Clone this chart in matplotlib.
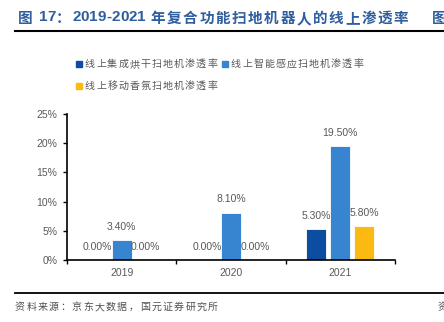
import matplotlib
matplotlib.use("Agg")
import matplotlib.pyplot as plt
from matplotlib.patches import Rectangle
from matplotlib.lines import Line2D
import numpy as np

plt.rcParams['font.family'] = ['Noto Sans CJK SC', 'DejaVu Sans']

years = ["2019", "2020", "2021"]
series_names = ["线上集成烘干扫地机渗透率", "线上智能感应扫地机渗透率", "线上移动香氛扫地机渗透率"]
values = [
    [0.0, 0.0, 5.3],
    [3.4, 8.1, 19.5],
    [0.0, 0.0, 5.8],
]
colors = ["#0C4DA2", "#3784D0", "#FBBA12"]
yticks = [0, 5, 10, 15, 20, 25]
title_parts = [("图", "cjk"), (" ", "gap"), ("17", "num"), ("：", "cjk"), ("2019-2021", "num"),
               (" ", "gap"), ("年复合功能扫地机器人的线上渗透率", "cjk")]
source = "资料来源：京东大数据，国元证券研究所"

W, H = 444, 322
fig = plt.figure(figsize=(W / 100, H / 100), dpi=100)
renderer = fig.canvas.get_renderer()

def fx(px):
    return px / W

def fy(py):
    return 1 - py / H

def spaced(x, y, s, extra, **kw):
    for ch in s:
        t = fig.text(fx(x), fy(y), ch, ha="left", va="center", **kw)
        x += t.get_window_extent(renderer).width + extra
    return x

ax = fig.add_axes([fx(67), fy(260), fx(395) - fx(67), fy(114) - fy(260)])

x = np.arange(len(years))
bw = 0.183
off = 0.22
gray = "#595959"
for i, (name, vals, c) in enumerate(zip(series_names, values, colors)):
    xs = x + (i - 1) * off
    ax.bar(xs, vals, width=bw, color=c, edgecolor="white", linewidth=0.6, zorder=2)
    for xi, v in zip(xs, vals):
        ax.annotate(f"{v:.2f}%", (xi, v), xytext=(0, 6), textcoords="offset points",
                    ha="center", va="bottom", fontsize=7.5, color=gray,
                    family="Liberation Sans")

ax.set_xlim(-0.5, 2.5)
ax.set_ylim(0, 25)
ax.set_yticks(yticks)
ax.set_yticklabels([f"{t}%" for t in yticks], fontsize=7.5, color=gray, family="Liberation Sans")
ax.set_xticks(x)
ax.set_xticklabels(years, fontsize=7.5, color=gray, family="Liberation Sans")
ax.tick_params(axis="x", which="major", length=0, pad=6)
ax.set_xticks([-0.5, 0.5, 1.5, 2.5], minor=True)
ax.tick_params(axis="x", which="minor", length=3, width=1, color="black", direction="out")
ax.tick_params(axis="y", length=3, width=1, color="black", pad=4)
for s in ["top", "right"]:
    ax.spines[s].set_visible(False)
ax.spines["left"].set_linewidth(1.2)
ax.spines["bottom"].set_linewidth(1.2)

# Title
tcol = "#2F5E9F"
cx = 18
for txt, kind in title_parts:
    if kind == "gap":
        cx += 5
    elif kind == "num":
        cx = spaced(cx, 17, txt, 0, fontsize=11, fontweight="bold", color=tcol,
                    family="Liberation Sans")
    else:
        cx = spaced(cx, 18, txt, 1.6, fontsize=10.5, fontweight="bold", color=tcol)
fig.text(fx(432), fy(18), "图", fontsize=10.5, fontweight="bold", color=tcol,
         ha="left", va="center")
fig.add_artist(Line2D([fx(15), fx(444)], [fy(31), fy(31)], color="black", lw=1.5))

# Legend (manual)
legend_pos = [(76, 64), (222, 64), (76, 86)]
for (px, py), name, c in zip(legend_pos, series_names, colors):
    fig.add_artist(Rectangle((fx(px), fy(py + 3)), fx(6), fy(0) - fy(6), color=c,
                             transform=fig.transFigure))
    spaced(px + 9, py, name, 1.1, fontsize=7.2, color=gray)

# Footer
fig.add_artist(Line2D([fx(15), fx(444)], [fy(293), fy(293)], color="black", lw=1.3))
spaced(15, 307, source, 1.35, fontsize=7.2, color="#505050")
fig.text(fx(438), fy(307), "资", fontsize=7.2, color="#505050", ha="left", va="center")

fig.savefig("out.png", dpi=100)
